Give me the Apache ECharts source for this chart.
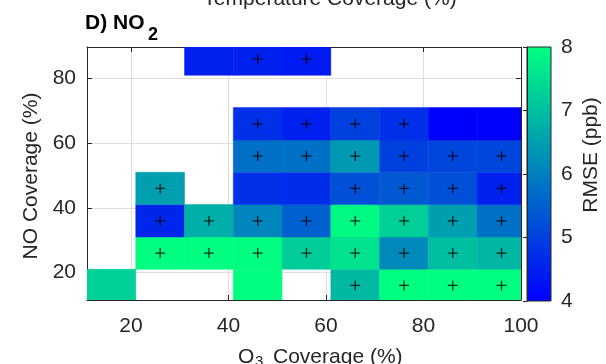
<!DOCTYPE html>
<html>
<head>
<meta charset="utf-8">
<script src="https://cdn.jsdelivr.net/npm/echarts@6/dist/echarts.min.js"></script>
<style>
  html, body { margin: 0; padding: 0; background: #fff; }
  #chart { width: 606px; height: 364px; }
</style>
</head>
<body>
<div id="chart"></div>
<script>
// cell centres (%)
const o3Centers = [16, 26, 36, 46, 56, 66, 76, 86, 96];
const noCenters = [16, 26, 36, 46, 56, 66, 76, 86];

// RMSE (ppb), one array per NO row (bottom to top), one entry per O3 column; null = no cell
const rmseNo16 = [7.25, null, null, 8.0, null, 6.9, 8.0, 8.0, 8.0];
const rmseNo26 = [null, 8.0, 8.0, 8.0, 7.2, 7.55, 6.15, 7.0, 6.85];
const rmseNo36 = [null, 4.6, 6.75, 6.1, 5.5, 7.9, 7.25, 6.5, 5.75];
const rmseNo46 = [null, 6.5, null, 4.75, 4.7, 5.25, 5.4, 5.25, 4.5];
const rmseNo56 = [null, null, null, 5.75, 5.75, 6.4, 5.0, 5.1, 5.1];
const rmseNo66 = [null, null, null, 4.75, 4.5, 5.0, 4.75, 4.0, 4.0];
const rmseNo76 = [null, null, null, null, null, null, null, null, null];
const rmseNo86 = [null, null, 4.5, 4.5, 4.4, null, null, null, null];

// 1 = cell marked with "+"
const markNo16 = [0, 0, 0, 0, 0, 1, 1, 1, 1];
const markNo26 = [0, 1, 1, 1, 1, 1, 1, 1, 1];
const markNo36 = [0, 1, 1, 1, 1, 1, 1, 1, 1];
const markNo46 = [0, 1, 0, 0, 0, 1, 1, 1, 1];
const markNo56 = [0, 0, 0, 1, 1, 1, 1, 1, 1];
const markNo66 = [0, 0, 0, 1, 1, 1, 1, 0, 0];
const markNo76 = [0, 0, 0, 0, 0, 0, 0, 0, 0];
const markNo86 = [0, 0, 0, 1, 1, 0, 0, 0, 0];

const xTicks = [20, 40, 60, 80, 100];
const yTicks = [20, 40, 60, 80];
const cbarRange = [4, 8];
const cbarColors = ['#0000ff', '#00ff80'];   // winter

const rmseRows = [rmseNo16, rmseNo26, rmseNo36, rmseNo46, rmseNo56, rmseNo66, rmseNo76, rmseNo86];
const markRows = [markNo16, markNo26, markNo36, markNo46, markNo56, markNo66, markNo76, markNo86];

const cells = [];
const marks = [];
rmseRows.forEach((row, i) => {
  row.forEach((v, j) => {
    if (v !== null) cells.push([o3Centers[j], noCenters[i], v]);
    if (markRows[i][j]) marks.push([o3Centers[j], noCenters[i]]);
  });
});

const AX = '#262626';
const FONT = '"Liberation Sans", Arial, sans-serif';
const CELL = 10;

function mirrorAxis(extra) {
  return Object.assign({
    gridIndex: 0, type: 'value',
    axisLine: { show: true, lineStyle: { color: AX, width: 1 } },
    axisTick: { show: true, inside: true, length: 5, lineStyle: { color: AX } },
    axisLabel: { show: false },
    splitLine: { show: false }
  }, extra);
}

const chart = echarts.init(document.getElementById('chart'));
chart.setOption({
  animation: false,
  textStyle: { fontFamily: FONT },
  grid: [
    { left: 87, top: 47, width: 434, height: 253 },
    { left: 527, top: 47, width: 24, height: 254 }
  ],
  xAxis: [
    mirrorAxis({
      min: 11, max: 100, position: 'bottom',
      axisTick: { show: true, inside: true, length: 5, customValues: xTicks, lineStyle: { color: AX } },
      axisLabel: { show: true, customValues: xTicks, fontSize: 21, color: AX, margin: 16 },
      splitLine: { show: true, lineStyle: { color: '#dedede', width: 1 } }
    }),
    mirrorAxis({
      min: 11, max: 100, position: 'top',
      axisTick: { show: true, inside: true, length: 5, customValues: xTicks, lineStyle: { color: AX } }
    }),
    { gridIndex: 1, type: 'value', min: 0, max: 1, show: false }
  ],
  yAxis: [
    mirrorAxis({
      min: 11.5, max: 89.75, position: 'left',
      axisTick: { show: true, inside: true, length: 5, customValues: yTicks, lineStyle: { color: AX } },
      axisLabel: { show: true, customValues: yTicks, fontSize: 21, color: AX, margin: 11 },
      splitLine: { show: true, lineStyle: { color: '#dedede', width: 1 } }
    }),
    mirrorAxis({
      min: 11.5, max: 89.75, position: 'right',
      axisTick: { show: true, inside: true, length: 5, customValues: yTicks, lineStyle: { color: AX } }
    }),
    {
      gridIndex: 1, type: 'value', min: cbarRange[0], max: cbarRange[1], interval: 1,
      position: 'right', z: 10,
      axisLine: { show: true, lineStyle: { color: AX } },
      axisTick: { show: true, inside: true, length: 4, lineStyle: { color: AX } },
      axisLabel: { fontSize: 21, color: AX, margin: 10 },
      splitLine: { show: false }
    }
  ],
  visualMap: {
    type: 'continuous', show: false, seriesIndex: 0, dimension: 2,
    min: cbarRange[0], max: cbarRange[1],
    inRange: { color: cbarColors }
  },
  graphic: [
    { type: 'text', x: 330, y: -0.5, style: { text: 'Temperature Coverage (%)', font: '21px ' + FONT, fill: AX, align: 'center', verticalAlign: 'middle' } },
    { type: 'text', x: 85, y: 23, style: { text: 'D) NO', font: 'bold 21px ' + FONT, fill: '#000', align: 'left', verticalAlign: 'middle' } },
    { type: 'text', x: 148, y: 35, style: { text: '2', font: 'bold 18px ' + FONT, fill: '#000', align: 'left', verticalAlign: 'middle' } },
    { type: 'text', x: 238, y: 357, style: { text: 'O', font: '21px ' + FONT, fill: AX, align: 'left', verticalAlign: 'middle' } },
    { type: 'text', x: 255, y: 362, style: { text: '3', font: '15px ' + FONT, fill: AX, align: 'left', verticalAlign: 'middle' } },
    { type: 'text', x: 273, y: 357, style: { text: 'Coverage (%)', font: '21px ' + FONT, fill: AX, align: 'left', verticalAlign: 'middle' } },
    { type: 'text', x: 31, y: 176, rotation: Math.PI / 2, style: { text: 'NO Coverage (%)', font: '21px ' + FONT, fill: AX, align: 'center', verticalAlign: 'middle' } },
    { type: 'text', x: 591, y: 155, rotation: Math.PI / 2, style: { text: 'RMSE (ppb)', font: '21px ' + FONT, fill: AX, align: 'center', verticalAlign: 'middle' } }
  ],
  series: [
    {
      type: 'custom', xAxisIndex: 0, yAxisIndex: 0, clip: true,
      data: cells,
      renderItem: function (params, api) {
        const x = api.value(0), y = api.value(1);
        const p0 = api.coord([x - CELL / 2, y + CELL / 2]);
        const p1 = api.coord([x + CELL / 2, y - CELL / 2]);
        const c = api.visual('color');
        return {
          type: 'rect',
          shape: { x: p0[0], y: p0[1], width: p1[0] - p0[0], height: p1[1] - p0[1] },
          style: { fill: c, stroke: c, lineWidth: 0.5 }
        };
      }
    },
    {
      type: 'scatter', xAxisIndex: 0, yAxisIndex: 0, z: 3, silent: true,
      data: marks,
      symbol: 'path://M0,4.35H10V5.65H0Z M4.35,0H5.65V10H4.35Z',
      symbolSize: 10,
      itemStyle: { color: '#000' }
    },
    {
      type: 'custom', xAxisIndex: 2, yAxisIndex: 2, silent: true,
      data: [[0, cbarRange[0], cbarRange[1]]],
      renderItem: function (params, api) {
        const p0 = api.coord([0, api.value(2)]);
        const p1 = api.coord([1, api.value(1)]);
        return {
          type: 'rect',
          shape: { x: p0[0], y: p0[1], width: p1[0] - p0[0], height: p1[1] - p0[1] },
          style: {
            fill: new echarts.graphic.LinearGradient(0, 0, 0, 1, [
              { offset: 0, color: cbarColors[1] },
              { offset: 1, color: cbarColors[0] }
            ]),
            stroke: AX, lineWidth: 1
          }
        };
      }
    }
  ]
});
</script>
</body>
</html>
